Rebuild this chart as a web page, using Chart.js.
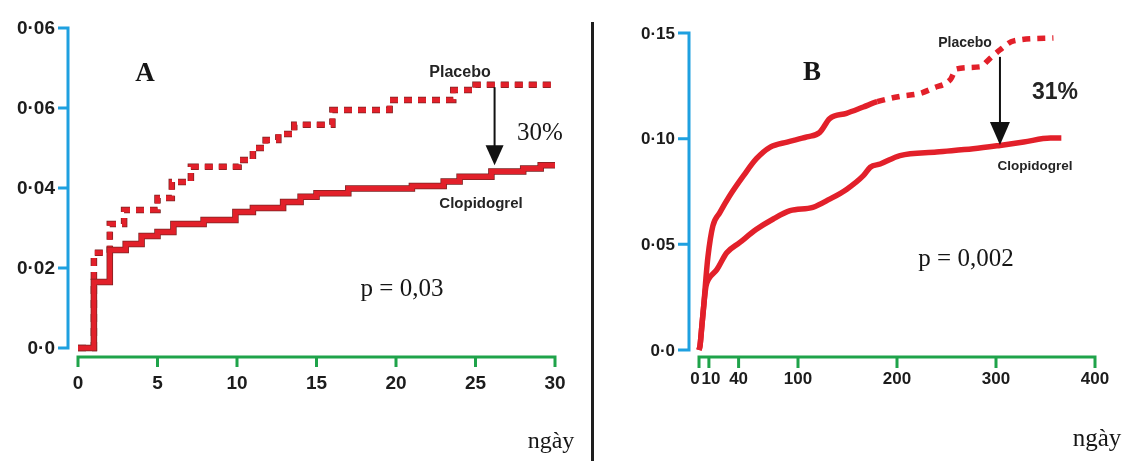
<!DOCTYPE html>
<html lang="vi">
<head>
<meta charset="UTF-8">
<title>Clopidogrel so với placebo</title>
<style>
  body { margin: 0; background: #fff; }
  #wrap { position: relative; width: 1133px; height: 461px; overflow: hidden; background: #fff; }
  canvas { position: absolute; top: 0; }
  #chartA { left: 0; }
  #chartB { left: 600px; }
  .divider { position: absolute; left: 591px; top: 22px; width: 3px; height: 439px; background: #1e1e1e; }
  .note { position: absolute; transform: translate(-50%, -50%); white-space: nowrap; line-height: 1; color: #161616; }
  .serif { font-family: 'Liberation Serif', 'DejaVu Serif', serif; }
  .sans { font-family: 'Liberation Sans', Arial, sans-serif; font-weight: bold; color: #242424; }
  .letter { font-weight: bold; font-size: 27px; }
</style>
</head>
<body>
<div id="wrap">
  <canvas id="chartA" width="590" height="461"></canvas>
  <canvas id="chartB" width="533" height="461"></canvas>
  <div class="divider"></div>

  <!-- chú thích panel A -->
  <div class="note serif letter" style="left:145px;top:72px">A</div>
  <div class="note sans" style="left:460px;top:72px;font-size:16px">Placebo</div>
  <div class="note serif" style="left:540px;top:131px;font-size:25px">30%</div>
  <div class="note sans" style="left:481px;top:202px;font-size:15px">Clopidogrel</div>
  <div class="note serif" style="left:402px;top:287px;font-size:25px">p = 0,03</div>
  <div class="note serif" style="left:551px;top:440px;font-size:24px">ngày</div>

  <!-- chú thích panel B -->
  <div class="note serif letter" style="left:812px;top:71px">B</div>
  <div class="note sans" style="left:965px;top:42px;font-size:14px">Placebo</div>
  <div class="note sans" style="left:1055px;top:91px;font-size:23px">31%</div>
  <div class="note sans" style="left:1035px;top:166px;font-size:13.5px">Clopidogrel</div>
  <div class="note serif" style="left:966px;top:257px;font-size:25px">p = 0,002</div>
  <div class="note serif" style="left:1097px;top:437px;font-size:25px">ngày</div>
</div>

<script src="https://cdn.jsdelivr.net/npm/chart.js"></script>
<script>
  // Panel A: 30 ngày đầu (đường bậc thang Kaplan-Meier)
  const daysPlaceboA = [0, 1, 2, 2.9, 5, 5.9, 7.1, 10.1, 11, 11.8, 12.6, 13.6, 16, 19.6, 23.6, 25, 30];
  const ratePlaceboA = [0, 0.0238, 0.031, 0.0345, 0.0375, 0.0415, 0.0453, 0.047, 0.050, 0.052, 0.0535, 0.0558, 0.0595, 0.062, 0.0645, 0.0658, 0.0658];
  const daysClopA = [0, 1, 2, 3, 4, 5, 6, 7.9, 9.9, 11, 12.9, 14, 15, 17, 21, 23, 24, 26, 28, 29.1, 30];
  const rateClopA = [0, 0.0165, 0.0245, 0.026, 0.028, 0.029, 0.031, 0.032, 0.034, 0.035, 0.0365, 0.0378, 0.0387, 0.0399, 0.0405, 0.0416, 0.0428, 0.0441, 0.0449, 0.0457, 0.0457];
  const yTicksA = [0, 0.02, 0.04, 0.06, 0.08];
  const yLabelsA = ['0·0', '0·02', '0·04', '0·06', '0·06'];
  const xTicksA = [0, 5, 10, 15, 20, 25, 30];
  const xLabelsA = ['0', '5', '10', '15', '20', '25', '30'];

  // Panel B: theo dõi đến 1 năm
  const daysPlaceboB = [0, 1, 3, 5, 7, 9, 14, 21, 31, 45, 58, 72, 89, 109, 122, 132, 149, 166, 180, 203, 223, 237, 254, 260, 284, 294, 304, 318, 358];
  const ratePlaceboB = [0, 0.002, 0.012, 0.022, 0.034, 0.044, 0.0587, 0.065, 0.073, 0.0825, 0.0905, 0.096, 0.0984, 0.1008, 0.103, 0.1095, 0.112, 0.115, 0.1175, 0.120, 0.1214, 0.124, 0.128, 0.133, 0.134, 0.138, 0.142, 0.1463, 0.1476];
  const daysClopB = [0, 1, 3, 5, 7, 9.4, 18, 28, 41, 58, 75, 92, 115, 132, 149, 166, 173, 183, 203, 240, 277, 304, 328, 355, 366];
  const rateClopB = [0, 0.002, 0.012, 0.022, 0.030, 0.0333, 0.038, 0.046, 0.0508, 0.0571, 0.062, 0.0659, 0.0675, 0.0714, 0.076, 0.0825, 0.0865, 0.088, 0.092, 0.0937, 0.0952, 0.0968, 0.0984, 0.1003, 0.1003];
  const yTicksB = [0, 0.05, 0.10, 0.15];
  const yLabelsB = ['0·0', '0·05', '0·10', '0·15'];
  const xTicksB = [0, 10, 40, 100, 200, 300, 400];
  const xLabelsB = ['0', '10', '40', '100', '200', '300', '400'];

  const RED = '#e2202a';
  const EDGE = '#7a2222';
  const BLUE = '#1ea0e0';
  const GREEN = '#1fa34a';

  const series = (days, vals) => days.map((d, i) => ({ x: d, y: vals[i] }));

  // trục kiểu "ngoặc": lệch khỏi vùng dữ liệu, vẽ theo thang đo của Chart.js
  const bracketAxes = {
    id: 'bracketAxes',
    afterDraw(chart, args, o) {
      const { ctx, chartArea, scales: { x, y } } = chart;
      ctx.save();
      ctx.lineCap = 'butt';

      const ax = chartArea.left - o.yGap;
      const yTop = y.getPixelForValue(o.yTicks[o.yTicks.length - 1]);
      const yBot = y.getPixelForValue(o.yTicks[0]);
      ctx.strokeStyle = BLUE;
      ctx.lineWidth = 3;
      ctx.beginPath();
      ctx.moveTo(ax, yTop - 1.5);
      ctx.lineTo(ax, yBot + 1.5);
      o.yTicks.forEach(v => {
        const py = y.getPixelForValue(v);
        ctx.moveTo(ax + 1.5, py);
        ctx.lineTo(ax - o.tickLen, py);
      });
      ctx.stroke();

      ctx.fillStyle = '#1c1c1c';
      ctx.font = o.font;
      ctx.textAlign = 'right';
      ctx.textBaseline = 'middle';
      o.yTicks.forEach((v, i) => ctx.fillText(o.yLabels[i], ax - o.tickLen - 3, y.getPixelForValue(v) + 1));

      const ay = y.getPixelForValue(0) + o.xGap;
      const xL = x.getPixelForValue(o.xTicks[0]);
      const xR = x.getPixelForValue(o.xTicks[o.xTicks.length - 1]);
      ctx.strokeStyle = GREEN;
      ctx.beginPath();
      ctx.moveTo(xL - 1.5, ay);
      ctx.lineTo(xR + 1.5, ay);
      o.xTicks.forEach(v => {
        const px = x.getPixelForValue(v);
        ctx.moveTo(px, ay - 1.5);
        ctx.lineTo(px, ay + o.tickLen);
      });
      ctx.stroke();

      ctx.textAlign = 'center';
      o.xTicks.forEach((v, i) => {
        const shift = (o.xShift && o.xShift[i]) || 0;
        ctx.fillText(o.xLabels[i], x.getPixelForValue(v) + shift, ay + o.xLabelDy);
      });

      // mũi tên chỉ mức giảm nguy cơ
      const a = o.arrow;
      const px = x.getPixelForValue(a.x);
      const p1 = y.getPixelForValue(a.from);
      const p2 = y.getPixelForValue(a.to);
      ctx.strokeStyle = '#111';
      ctx.fillStyle = '#111';
      ctx.lineWidth = 2;
      ctx.beginPath();
      ctx.moveTo(px, p1);
      ctx.lineTo(px, p2 - a.head + 2);
      ctx.stroke();
      ctx.beginPath();
      ctx.moveTo(px - a.half, p2 - a.head);
      ctx.lineTo(px + a.half, p2 - a.head);
      ctx.lineTo(px, p2);
      ctx.closePath();
      ctx.fill();
      ctx.restore();
    }
  };

  function baseOptions(padding, xMax, yMax, axes) {
    return {
      responsive: false,
      animation: false,
      layout: { padding },
      scales: {
        x: { type: 'linear', min: 0, max: xMax, display: false },
        y: { type: 'linear', min: 0, max: yMax, display: false }
      },
      elements: { point: { radius: 0 }, line: { borderCapStyle: 'butt', borderJoinStyle: 'miter' } },
      plugins: { legend: { display: false }, tooltip: { enabled: false }, bracketAxes: axes }
    };
  }

  new Chart(document.getElementById('chartA'), {
    type: 'line',
    data: {
      datasets: [
        { data: series(daysClopA, rateClopA), stepped: true, borderColor: RED, borderWidth: 5, clip: false, order: 1 },
        { data: series(daysClopA, rateClopA), stepped: true, borderColor: EDGE, borderWidth: 6.5, clip: false, order: 2 },
        { data: series(daysPlaceboA, ratePlaceboA), stepped: true, borderColor: RED, borderWidth: 5, borderDash: [8, 6], clip: false, order: 3 },
        { data: series(daysPlaceboA, ratePlaceboA), stepped: true, borderColor: EDGE, borderWidth: 6.5, borderDash: [8, 6], clip: false, order: 4 }
      ]
    },
    options: baseOptions({ left: 78, right: 35, top: 28, bottom: 113 }, 30, 0.08, {
      yTicks: yTicksA, yLabels: yLabelsA, xTicks: xTicksA, xLabels: xLabelsA,
      yGap: 10, xGap: 9, tickLen: 10, xLabelDy: 27,
      font: 'bold 19px "Liberation Sans", Arial, sans-serif',
      arrow: { x: 26.2, from: 0.0652, to: 0.0457, head: 20, half: 9 }
    }),
    plugins: [bracketAxes]
  });

  const dashFromB = 176;
  new Chart(document.getElementById('chartB'), {
    type: 'line',
    data: {
      datasets: [
        { data: series(daysClopB, rateClopB), borderColor: RED, borderWidth: 5.5, cubicInterpolationMode: 'monotone', clip: false, order: 1 },
        {
          data: series(daysPlaceboB, ratePlaceboB), borderColor: RED, borderWidth: 5.5, cubicInterpolationMode: 'monotone', clip: false, order: 2,
          segment: { borderDash: c => (c.p0.parsed.x >= dashFromB ? [8, 7] : undefined) }
        }
      ]
    },
    options: baseOptions({ left: 99, right: 38, top: 33, bottom: 111 }, 400, 0.15, {
      yTicks: yTicksB, yLabels: yLabelsB, xTicks: xTicksB, xLabels: xLabelsB,
      yGap: 10, xGap: 7, tickLen: 11, xLabelDy: 22, xShift: [-4, 2],
      font: 'bold 17px "Liberation Sans", Arial, sans-serif',
      arrow: { x: 304, from: 0.1387, to: 0.097, head: 23, half: 10 }
    }),
    plugins: [bracketAxes]
  });
</script>
</body>
</html>
